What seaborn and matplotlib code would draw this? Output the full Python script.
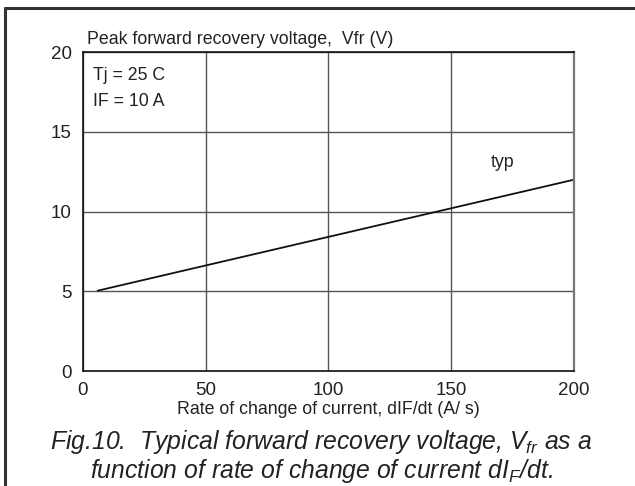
import matplotlib
matplotlib.use("Agg")
import matplotlib.pyplot as plt
from matplotlib.lines import Line2D
import pandas as pd
import seaborn as sns

# values
di_dt = [6, 50, 100, 150, 200]            # A/us
vfr_typ = [5.05, 6.63, 8.42, 10.21, 12.0]  # V
x_ticks = [0, 50, 100, 150, 200]
y_ticks = [0, 5, 10, 15, 20]

sns.set_style("white")
plt.rcParams["font.family"] = ["Liberation Sans", "DejaVu Sans"]
plt.rcParams["mathtext.fontset"] = "custom"
plt.rcParams["mathtext.it"] = "Liberation Sans:italic"
plt.rcParams["mathtext.rm"] = "Liberation Sans:italic"

df = pd.DataFrame({"didt": di_dt, "vfr": vfr_typ})

fig = plt.figure(figsize=(6.35, 4.86), dpi=100)
ax = fig.add_axes([0.1307, 0.236, 0.773, 0.657])

sns.lineplot(data=df, x="didt", y="vfr", color="#111111", linewidth=1.3, ax=ax)

ax.set_xlim(0, 200)
ax.set_ylim(0, 20)
ax.set_xticks(x_ticks)
ax.set_yticks(y_ticks)
ax.tick_params(axis="both", length=0, labelsize=13.5, colors="#222222")
ax.tick_params(axis="x", pad=8)
ax.tick_params(axis="y", pad=8)
ax.grid(True, color="#555555", linewidth=1.0)

for side in ["left", "bottom", "top"]:
    ax.spines[side].set_color("#111111")
    ax.spines[side].set_linewidth(1.2)
ax.spines["right"].set_color("#777777")
ax.spines["right"].set_linewidth(1.6)

ax.set_xlabel("Rate of change of current, dIF/dt (A/ s)", fontsize=12.8,
              color="#222222", labelpad=1)
ax.set_ylabel("")
ax.text(0.008, 1.012, "Peak forward recovery voltage,  Vfr (V)",
        transform=ax.transAxes, fontsize=12.8, color="#222222",
        ha="left", va="bottom")

ax.text(4, 18.5, "Tj = 25 C", fontsize=12.8, color="#222222", va="center")
ax.text(4, 16.9, "IF = 10 A", fontsize=12.8, color="#222222", va="center")
ax.text(171, 13.1, "typ", fontsize=12.8, color="#222222",
        ha="center", va="center")

# caption
fig.text(0.506, 1 - 449 / 486,
         "Fig.10.  Typical forward recovery voltage, $V_{fr}$ as a",
         fontsize=17.8, style="italic", color="#222222",
         ha="center", va="baseline")
fig.text(0.506, 1 - 478 / 486,
         "function of rate of change of current d$I_F$/dt.",
         fontsize=17.8, style="italic", color="#222222",
         ha="center", va="baseline")

# frame of the figure (only top and left visible)
fx = 4.5 / 635
fy = 1 - 8.5 / 486
fig.add_artist(Line2D([fx, fx], [0, fy], transform=fig.transFigure,
                      color="#333333", linewidth=2.2))
fig.add_artist(Line2D([fx, 1], [fy, fy], transform=fig.transFigure,
                      color="#333333", linewidth=2.2))

fig.savefig("out.png", dpi=100)
